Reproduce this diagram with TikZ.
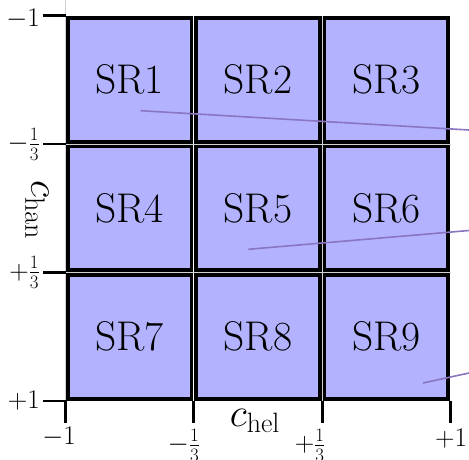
\RequirePackage{fix-cm}
\documentclass[tikz,border=0pt]{standalone}
\begin{document}
\begin{tikzpicture}[x=1pt,y=-1pt,
  cellbox/.style={draw=black,line width=3.7pt,fill=blue!30},
  srlabel/.style={inner sep=0pt,font=\fontsize{41.5}{47}\selectfont},
  axlabel/.style={inner sep=0pt,font=\fontsize{40}{46}\selectfont},
  ticklabel/.style={inner sep=0pt,font=\fontsize{27}{31}\selectfont},
  tickline/.style={line width=2.7pt},
  gridline/.style={line width=0.6pt,draw=gray!35},
  pointer/.style={line width=1.6pt,draw={rgb,255:red,138;green,118;blue,192}}]
\useasboundingbox (0,0) rectangle (469,459);
\def\xa{65.5}\def\xb{193.8}\def\xc{322.2}\def\xd{450.5}
\def\ya{15.5}\def\yb{144}\def\yc{272.5}\def\yd{401}
% thin gray grid behind
\draw[gridline] (\xa,0) -- (\xa,\yd);
\draw[gridline] (\xb,\ya) -- (\xb,\yd);
\draw[gridline] (\xc,\ya) -- (\xc,\yd);
\draw[gridline] (\xa,\yb) -- (\xd,\yb);
\draw[gridline] (\xa,\yc) -- (\xd,\yc);
% cells
\foreach \x/\X in {\xa/\xb,\xb/\xc,\xc/\xd}{
  \foreach \y/\Y in {\ya/\yb,\yb/\yc,\yc/\yd}{
    \draw[cellbox] (\x+2.35,\y+2.35) rectangle (\X-2.35,\Y-2.35);
  }
}
% labels
\node[srlabel] (sr1) at ({(\xa+\xb)/2},{(\ya+\yb)/2}) {SR1};
\node[srlabel] (sr2) at ({(\xb+\xc)/2},{(\ya+\yb)/2}) {SR2};
\node[srlabel] (sr3) at ({(\xc+\xd)/2},{(\ya+\yb)/2}) {SR3};
\node[srlabel] (sr4) at ({(\xa+\xb)/2},{(\yb+\yc)/2}) {SR4};
\node[srlabel] (sr5) at ({(\xb+\xc)/2},{(\yb+\yc)/2}) {SR5};
\node[srlabel] (sr6) at ({(\xc+\xd)/2},{(\yb+\yc)/2}) {SR6};
\node[srlabel] (sr7) at ({(\xa+\xb)/2},{(\yc+\yd)/2}) {SR7};
\node[srlabel] (sr8) at ({(\xb+\xc)/2},{(\yc+\yd)/2}) {SR8};
\node[srlabel] (sr9) at ({(\xc+\xd)/2},{(\yc+\yd)/2}) {SR9};
% ticks left
\foreach \y in {\ya,\yb,\yc,\yd}{\draw[tickline] (43,\y) -- (\xa,\y);}
% ticks bottom
\foreach \x in {\xa,\xb,\xc,\xd}{\draw[tickline] (\x,\yd) -- (\x,423);}
% tick labels left
\node[ticklabel,anchor=east] (ly1) at (40,19) {$-1$};
\node[ticklabel,anchor=east] (ly2) at (40,\yb) {$-\frac{1}{3}$};
\node[ticklabel,anchor=east] (ly3) at (40,\yc) {$+\frac{1}{3}$};
\node[ticklabel,anchor=east] (ly4) at (40,\yd) {$+1$};
% tick labels bottom
\node[ticklabel] (lx1) at (59,437) {$-1$};
\node[ticklabel] (lx2) at (184,445) {$-\frac{1}{3}$};
\node[ticklabel] (lx3) at (310,445) {$+\frac{1}{3}$};
\node[ticklabel] (lx4) at (451,439) {$+1$};
% axis labels
\node[axlabel] (xlab) at (255,421) {$c_{\mathrm{hel}}$};
\node[axlabel,rotate=-90] (ylab) at (37,210) {$c_{\mathrm{han}}$};
% pointer lines
\coordinate (p1s) at (140.7,110.7);
\coordinate (p1e) at (469,130);
\coordinate (p2s) at (248.3,249.3);
\coordinate (p2e) at (469,230.5);
\coordinate (p3s) at (423,383);
\coordinate (p3e) at (469,373);
\draw[pointer] (p1s) -- (p1e);
\draw[pointer] (p2s) -- (p2e);
\draw[pointer] (p3s) -- (p3e);
\end{tikzpicture}
\end{document}
